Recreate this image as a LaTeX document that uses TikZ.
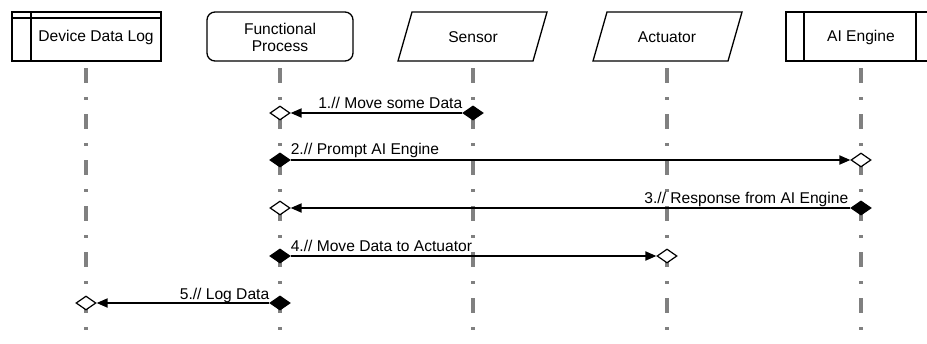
\documentclass[tikz,border=0pt]{standalone}
\usepackage{fontspec}
\setmainfont{Liberation Sans}
\usetikzlibrary{shapes.geometric,arrows.meta}
\definecolor{llgray}{RGB}{128,128,128}
\begin{document}
\begin{tikzpicture}[x=1pt,y=-1pt,
 box/.style={draw,line width=1.3pt},
 lifeline/.style={draw=llgray, line width=3.5pt, dash pattern=on 15pt off 14pt on 3pt off 14pt},
 dia/.style={diamond,draw,line width=1.2pt,minimum width=20pt,minimum height=14pt,inner sep=0pt},
 fdia/.style={dia,fill=black},
 odia/.style={dia,fill=white},
 msg/.style={line width=1.8pt,-{Triangle[length=11pt,width=9pt]}},
 lbl/.style={font=\fontsize{15.6}{17}\selectfont, inner sep=0pt},
 ttl/.style={font=\fontsize{15.6}{17}\selectfont, align=center, inner sep=0pt}
]
\useasboundingbox (0,0) rectangle (927,343);
% headers
\node[box, rectangle, minimum width=149pt, minimum height=49pt, inner sep=0pt] (ddlbox) at (86.5,36.5) {};
\draw[box] (ddlbox.north west |- 0,18) -- (ddlbox.north east |- 0,18);
\draw[box] (ddlbox.north west -| 31,0) -- (ddlbox.south west -| 31,0);
\node[ttl] (ddl) at (96,37) {Device Data Log};

\node[box, rectangle, rounded corners=8pt, minimum width=146pt, minimum height=49pt, inner sep=0pt] (fpbox) at (280,36.5) {};
\node[ttl] (fp) at (280,37) {Functional\\Process};

\draw[box] (412,12) -- (547,12) -- (533,61) -- (398,61) -- cycle;
\node[ttl] (sen) at (473,37) {Sensor};

\draw[box] (607,12) -- (742,12) -- (728,61) -- (593,61) -- cycle;
\node[ttl] (act) at (667,37) {Actuator};

\draw[box] (934,12) -- (786,12) -- (786,61) -- (934,61);
\draw[box] (804,12) -- (804,61);
\draw[box] (916,12) -- (916,61);
\node[ttl] (ai) at (861,37) {AI Engine};

% lifelines
\foreach \n/\x in {l1/86,l2/280,l3/473,l4/667,l5/861}{
  \coordinate (\n top) at (\x,68);
  \coordinate (\n bot) at (\x,331);
  \draw[lifeline] (\n top) -- (\n bot);
}

% message 1
\node[fdia] (s1) at (473,113) {};
\node[odia] (r1) at (280,113) {};
\draw[msg] (s1.west) -- (r1.east);
\node[lbl, anchor=base east] at ([yshift=5pt]s1.west) {1.// Move some Data};

% message 2
\node[fdia] (s2) at (280,160) {};
\node[odia] (r2) at (861,160) {};
\draw[msg] (s2.east) -- (r2.west);
\node[lbl, anchor=base west] at ([yshift=6pt]s2.east) {2.// Prompt AI Engine};

% message 3
\node[fdia] (s3) at (861,208) {};
\node[odia] (r3) at (280,208) {};
\draw[msg] (s3.west) -- (r3.east);
\node[lbl, anchor=base east] at ([xshift=-2pt,yshift=5pt]s3.west) {3.// Response from AI Engine};

% message 4
\node[fdia] (s4) at (280,256) {};
\node[odia] (r4) at (667,256) {};
\draw[msg] (s4.east) -- (r4.west);
\node[lbl, anchor=base west] at ([yshift=5pt]s4.east) {4.// Move Data to Actuator};

% message 5
\node[fdia] (s5) at (280,303) {};
\node[odia] (r5) at (86,303) {};
\draw[msg] (s5.west) -- (r5.east);
\node[lbl, anchor=base east] at ([yshift=4pt]s5.west) {5.// Log Data};
\end{tikzpicture}
\end{document}
